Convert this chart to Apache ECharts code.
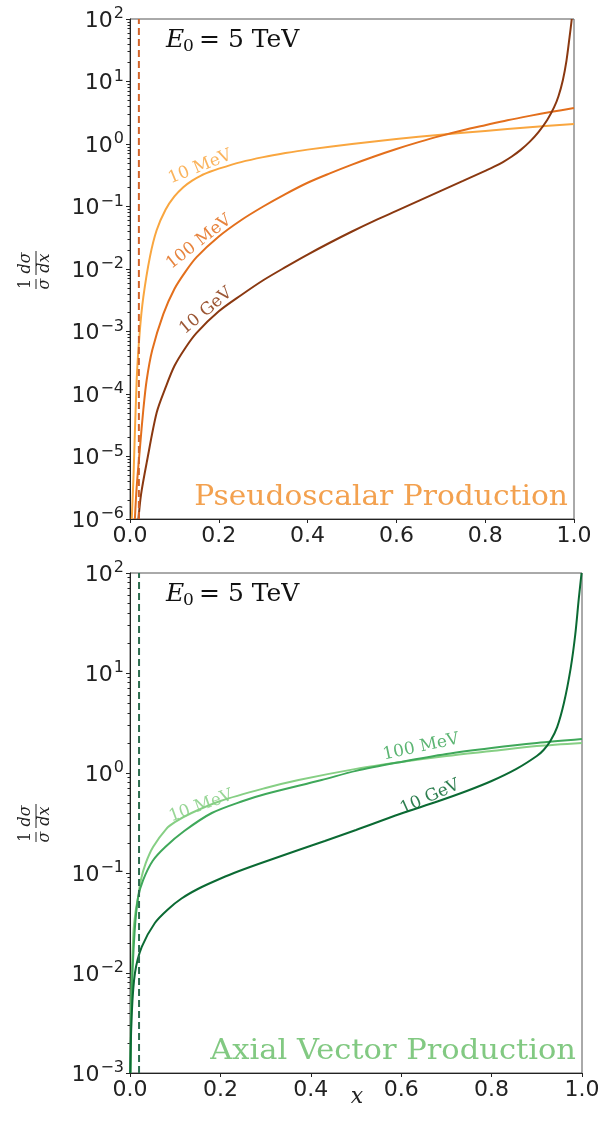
<!DOCTYPE html>
<html><head><meta charset="utf-8">
<script src="https://cdn.jsdelivr.net/npm/echarts@6/dist/echarts.min.js"></script>
<style>html,body{margin:0;padding:0;background:#fff}#c{width:603px;height:1134px}</style>
</head><body><div id="c"></div>
<script>
// ---------- data ----------
const xTicks = [0, 0.2, 0.4, 0.6, 0.8, 1.0];
const topYTicks = [1e-6, 1e-5, 1e-4, 1e-3, 1e-2, 1e-1, 1e0, 1e1, 1e2];
const botYTicks = [1e-3, 1e-2, 1e-1, 1e0, 1e1, 1e2];
const dashX = 0.02;
const massLabels = ['10 MeV', '100 MeV', '10 GeV'];
const topTitle = 'Pseudoscalar Production';
const botTitle = 'Axial Vector Production';

// Pseudoscalar panel
const psX10MeV  = [0.004, 0.008, 0.015, 0.022, 0.03, 0.045, 0.06, 0.08, 0.1, 0.12, 0.14, 0.16, 0.18, 0.2, 0.25, 0.3, 0.35, 0.4, 0.5, 0.6, 0.7, 0.8, 0.9, 1.0];
const psY10MeV  = [1e-6, 5.0e-6, 1.66e-4, 1.0e-3, 3.55e-3, 1.58e-2, 4.17e-2, 8.9e-2, 0.145, 0.204, 0.26, 0.313, 0.359, 0.403, 0.513, 0.617, 0.716, 0.813, 1.0, 1.20, 1.41, 1.62, 1.86, 2.09];
const psX100MeV = [0.011, 0.015, 0.0225, 0.03, 0.0375, 0.05, 0.075, 0.1, 0.125, 0.15, 0.2, 0.25, 0.3, 0.35, 0.4, 0.45, 0.5, 0.55, 0.6, 0.65, 0.7, 0.75, 0.8, 0.85, 0.9, 0.95, 1.0];
const psY100MeV = [1e-6, 3.2e-6, 1.41e-5, 5.6e-5, 1.66e-4, 5.0e-4, 1.9e-3, 4.8e-3, 9.1e-3, 1.55e-2, 3.31e-2, 6.03e-2, 0.1, 0.158, 0.240, 0.339, 0.468, 0.631, 0.832, 1.07, 1.35, 1.66, 2.0, 2.40, 2.82, 3.27, 3.77];
const psX10GeV  = [0.019, 0.025, 0.0375, 0.06, 0.08, 0.1, 0.125, 0.15, 0.2, 0.25, 0.3, 0.35, 0.4, 0.45, 0.5, 0.55, 0.6, 0.65, 0.7, 0.75, 0.8, 0.82, 0.84, 0.86, 0.88, 0.9, 0.92, 0.94, 0.955, 0.965, 0.975, 0.983, 0.99, 0.995];
const psY10GeV  = [1e-6, 2.5e-6, 7.9e-6, 5.0e-5, 1.26e-4, 2.8e-4, 5.5e-4, 9.5e-4, 2.1e-3, 3.8e-3, 6.6e-3, 1.07e-2, 1.7e-2, 2.63e-2, 3.98e-2, 5.89e-2, 8.51e-2, 0.123, 0.178, 0.257, 0.372, 0.433, 0.515, 0.631, 0.805, 1.08, 1.55, 2.45, 3.85, 5.82, 10.6, 21.4, 51.3, 100];

// Axial vector panel
const avX10MeV  = [0.001, 0.003, 0.0075, 0.012, 0.018, 0.024, 0.035, 0.051, 0.08, 0.1, 0.136, 0.2, 0.3, 0.373, 0.5, 0.6, 0.7, 0.8, 0.9, 1.0];
const avY10MeV  = [1e-3, 6.3e-3, 2.5e-2, 4.0e-2, 5.75e-2, 8.5e-2, 0.126, 0.182, 0.275, 0.324, 0.398, 0.525, 0.708, 0.851, 1.10, 1.29, 1.48, 1.66, 1.86, 2.0];
const avX100MeV = [0.001, 0.004, 0.01, 0.018, 0.029, 0.05, 0.078, 0.12, 0.181, 0.25, 0.3, 0.424, 0.5, 0.6, 0.7, 0.8, 0.9, 1.0];
const avY100MeV = [1e-3, 6.3e-3, 2.5e-2, 5.75e-2, 8.5e-2, 0.132, 0.182, 0.263, 0.398, 0.525, 0.617, 0.851, 1.05, 1.29, 1.55, 1.78, 2.0, 2.19];
const avX10GeV  = [0.0005, 0.004, 0.011, 0.026, 0.055, 0.085, 0.114, 0.15, 0.188, 0.23, 0.284, 0.376, 0.431, 0.5, 0.597, 0.68, 0.745, 0.8, 0.855, 0.9, 0.915, 0.93, 0.945, 0.96, 0.975, 0.985, 0.993, 0.999];
const avY10GeV  = [1e-3, 4.0e-3, 1.0e-2, 1.82e-2, 3.16e-2, 4.37e-2, 5.56e-2, 6.92e-2, 8.32e-2, 0.1, 0.123, 0.172, 0.209, 0.269, 0.389, 0.519, 0.661, 0.832, 1.10, 1.48, 1.70, 2.09, 2.88, 5.01, 11.2, 24, 56, 100];

// ---------- helpers ----------
const zip = (xs, ys) => xs.map((x, i) => [x, ys[i]]);
const minorOf = (ticks) => {
  const out = [];
  for (let i = 0; i < ticks.length - 1; i++) for (let k = 2; k <= 9; k++) out.push(k * ticks[i]);
  return out;
};
const TXT = '#222';
const SANS = 'DejaVu Sans';
const SERIF = 'DejaVu Serif';

const yFmt = v => {
  const e = Math.round(Math.log10(v));
  return '{b|10}{s|' + (e < 0 ? '\u2212' : '') + Math.abs(e) + '}';
};
const yRich = {
  b: { fontFamily: SANS, fontSize: 22, color: TXT, verticalAlign: 'bottom' },
  s: { fontFamily: SANS, fontSize: 16, color: TXT, verticalAlign: 'bottom', padding: [0, 0, 10, 1] }
};

function xAxisFor(g) {
  return {
    gridIndex: g, type: 'value', min: xTicks[0], max: xTicks[xTicks.length - 1], interval: 0.2,
    axisLine: { show: true, onZero: false, lineStyle: { color: TXT, width: 1 } },
    axisTick: { show: true, length: 4, lineStyle: { color: TXT } },
    axisLabel: { fontFamily: SANS, fontSize: 22, color: TXT, margin: 6, formatter: v => v.toFixed(1) },
    splitLine: { show: false }
  };
}
function yAxesFor(g, ticks) {
  const mn = ticks[0], mx = ticks[ticks.length - 1];
  return [{
    gridIndex: g, type: 'log', logBase: 10, min: mn, max: mx, position: 'left',
    axisLine: { show: true, onZero: false, lineStyle: { color: TXT, width: 1 } },
    axisTick: { show: true, length: 4, lineStyle: { color: TXT }, customValues: ticks },
    axisLabel: { customValues: ticks, margin: 6, formatter: yFmt, rich: yRich },
    splitLine: { show: false }
  }, {
    gridIndex: g, type: 'log', logBase: 10, min: mn, max: mx, position: 'left',
    axisLine: { show: false },
    axisTick: { show: true, length: 2.5, lineStyle: { color: TXT }, customValues: minorOf(ticks) },
    axisLabel: { show: false },
    splitLine: { show: false }
  }];
}
function curve(name, data, color, xi, yi, w) {
  return {
    name, type: 'line', data, xAxisIndex: xi, yAxisIndex: yi,
    showSymbol: false, smooth: 0.3, clip: true,
    lineStyle: { color, width: w || 2 }, itemStyle: { color }, z: 3
  };
}
function dashed(ticks, color, xi, yi) {
  return {
    type: 'line', xAxisIndex: xi, yAxisIndex: yi, showSymbol: false, silent: true,
    data: [[dashX, ticks[0]], [dashX, ticks[ticks.length - 1]]],
    lineStyle: { color, width: 2, type: [7, 4] }, z: 4
  };
}
function fracLabel(cx, cy) {
  const fs = 16;
  const t = (txt, x, y, italic) => ({
    type: 'text', x, y,
    style: { text: txt, fontFamily: SERIF, fontSize: fs, fontStyle: italic ? 'italic' : 'normal', fill: TXT, align: 'center', verticalAlign: 'middle' }
  });
  const l = (x1, x2) => ({ type: 'line', shape: { x1, y1: 0, x2, y2: 0 }, style: { stroke: TXT, lineWidth: 1 } });
  return {
    type: 'group', x: cx, y: cy, rotation: Math.PI / 2,
    children: [
      t('1', -14, -10, false), l(-19, -9), t('\u03c3', -14, 9, true),
      t('d\u03c3', 7, -10, true), l(-5, 19), t('dx', 7, 9, true)
    ]
  };
}
function energyTitle(x, y) {
  const st = (txt, fs, italic) => ({ text: txt, fontFamily: SERIF, fontSize: fs, fontStyle: italic ? 'italic' : 'normal', fill: '#111', align: 'left', verticalAlign: 'middle' });
  return {
    type: 'group', x, y,
    children: [
      { type: 'text', x: 0, y: 0, style: st('E', 25, true) },
      { type: 'text', x: 17, y: 7, style: st('0', 17, false) },
      { type: 'text', x: 33, y: 0, style: st('= 5 TeV', 25, false) }
    ]
  };
}
function bigTitle(txt, x, y, color, sx) {
  return {
    type: 'text', x, y, scaleX: sx,
    style: { text: txt, fontFamily: SERIF, fontSize: 27, fill: color, align: 'right', verticalAlign: 'middle' }
  };
}
function lbl(txt, x, y, deg, color) {
  return {
    type: 'text', x, y, rotation: deg * Math.PI / 180,
    style: { text: txt, fontFamily: SERIF, fontSize: 17, fill: color, align: 'center', verticalAlign: 'middle', opacity: 0.85 }
  };
}

const C = {
  ps10M: '#f9a63f', ps100M: '#e36f1c', ps10G: '#8a3810', psDash: '#d2642a', psTitle: '#f3a14f',
  av10M: '#86cf84', av100M: '#3fa85a', av10G: '#0b6a33', avDash: '#2d6d4f', avTitle: '#82c982'
};

const option = {
  animation: false,
  backgroundColor: '#fff',
  grid: [
    { left: 130, top: 19, width: 444, height: 500, show: true, borderColor: '#555', borderWidth: 1, backgroundColor: 'transparent' },
    { left: 130, top: 573, width: 452, height: 500, show: true, borderColor: '#555', borderWidth: 1, backgroundColor: 'transparent' }
  ],
  xAxis: [xAxisFor(0), xAxisFor(1)],
  yAxis: [...yAxesFor(0, topYTicks), ...yAxesFor(1, botYTicks)],
  series: [
    curve(massLabels[0], zip(psX10MeV, psY10MeV), C.ps10M, 0, 0),
    curve(massLabels[1], zip(psX100MeV, psY100MeV), C.ps100M, 0, 0),
    curve(massLabels[2], zip(psX10GeV, psY10GeV), C.ps10G, 0, 0),
    dashed(topYTicks, C.psDash, 0, 0),
    curve(massLabels[0], zip(avX10MeV, avY10MeV), C.av10M, 1, 2),
    curve(massLabels[1], zip(avX100MeV, avY100MeV), C.av100M, 1, 2),
    curve(massLabels[2], zip(avX10GeV, avY10GeV), C.av10G, 1, 2),
    dashed(botYTicks, C.avDash, 1, 2)
  ],
  graphic: [
    energyTitle(166, 40),
    energyTitle(166, 594),
    bigTitle(topTitle, 568, 498, C.psTitle, 1.1),
    bigTitle(botTitle, 576, 1052, C.avTitle, 1.13),
    fracLabel(36, 270),
    fracLabel(36, 823),
    { type: 'text', x: 357, y: 1097, style: { text: 'x', fontFamily: SERIF, fontStyle: 'italic', fontSize: 22, fill: TXT, align: 'center', verticalAlign: 'middle' } },
    lbl(massLabels[0], 200, 167, 22, C.ps10M),
    lbl(massLabels[1], 199, 242, 38, C.ps100M),
    lbl(massLabels[2], 206, 311, 40, C.ps10G),
    lbl(massLabels[0], 201, 806, 20, C.av10M),
    lbl(massLabels[1], 421, 747, 12, C.av100M),
    lbl(massLabels[2], 430, 797, 24, C.av10G)
  ]
};

const chart = echarts.init(document.getElementById('c'), null, { renderer: 'canvas' });
chart.setOption(option);
</script>
</body></html>
